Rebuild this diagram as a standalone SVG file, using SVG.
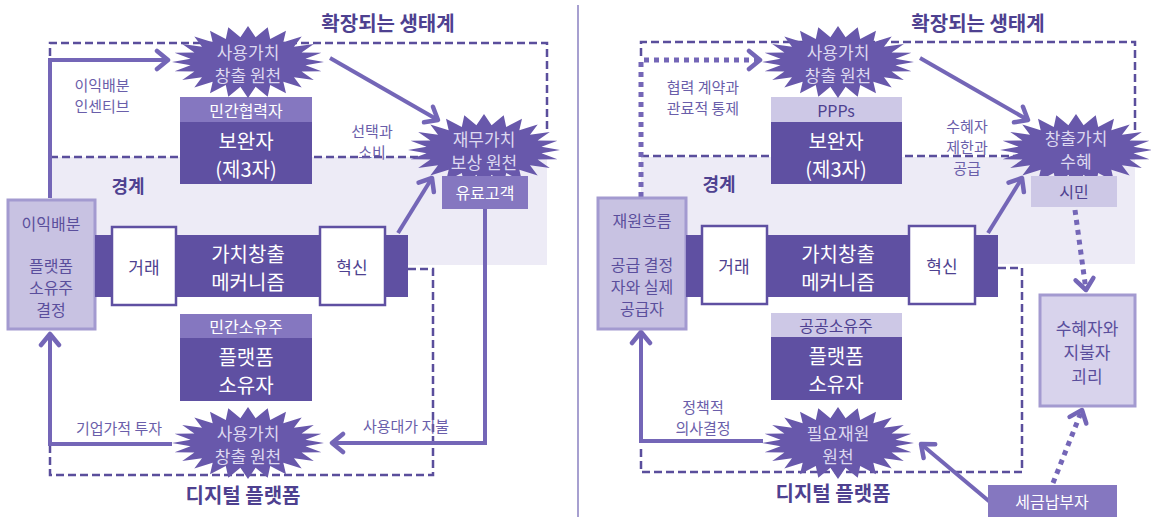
<svg xmlns="http://www.w3.org/2000/svg" width="1151" height="517" viewBox="0 0 1151 517">
<style>
text{font-family:'Noto Sans CJK KR','Noto Sans',sans-serif;text-anchor:middle;dominant-baseline:central}
.title{font-size:20px;font-weight:bold;fill:#4e4190}
.lbl{font-size:15px;fill:#6a5eaa}
.star{fill:#6858ab}
.startxt{font-size:17px;fill:#ddd8f0}
.dark{fill:#5f50a2}
.med{fill:#8577c0}
.light{fill:#cdc8e6}
.wtxt{fill:#fff}
.big{font-size:20px}
.mid{font-size:16px}
.dtxt{fill:#4e4190}
.side{fill:#c8c2e2;stroke:#a39ad0;stroke-width:3}
.sidetxt{font-size:16px;fill:#5a4e9c}
.dash{fill:none;stroke:#5a4e9c;stroke-width:2.5;stroke-dasharray:8 4}
.flow{fill:none;stroke:#7466b7;stroke-width:4}
.dot{fill:none;stroke:#7466b7;stroke-width:5;stroke-dasharray:5 5}
.band{fill:#edebf6}
.wbox{fill:#fff;stroke:#5f50a2;stroke-width:2.5}
.wtext{font-size:17px;fill:#4e4190}
</style>
<defs>
<polygon id="burst" points="76,0 57.5,3.3 73.4,9.3 53.6,9.6 65.8,18 46,15.2 53.7,25.5 35.3,19.8 38,31.2 22.2,23.1 19.7,34.8 7.6,24.8 0,36 -7.6,24.8 -19.7,34.8 -22.2,23.1 -38,31.2 -35.3,19.8 -53.7,25.5 -46,15.2 -65.8,18 -53.6,9.6 -73.4,9.3 -57.5,3.3 -76,0 -57.5,-3.3 -73.4,-9.3 -53.6,-9.6 -65.8,-18 -46,-15.2 -53.7,-25.5 -35.3,-19.8 -38,-31.2 -22.2,-23.1 -19.7,-34.8 -7.6,-24.8 0,-36 7.6,-24.8 19.7,-34.8 22.2,-23.1 38,-31.2 35.3,-19.8 53.7,-25.5 46,-15.2 65.8,-18 53.6,-9.6 73.4,-9.3 57.5,-3.3"/>
<marker id="ah" markerUnits="userSpaceOnUse" markerWidth="24" markerHeight="24" refX="16" refY="12" orient="auto"><path d="M5,3 L16,12 L5,21" fill="none" stroke="#7466b7" stroke-width="4.5" stroke-linecap="round" stroke-linejoin="round"/></marker>
</defs>

<rect width="1151" height="517" fill="#fff"/>
<line x1="578" y1="5" x2="578" y2="517" stroke="#8a80c0" stroke-width="1.5"/>

<!-- bands -->
<rect class="band" x="50" y="157" width="497" height="108"/>
<rect class="band" x="641" y="157" width="494" height="107"/>

<g id="connectors">
  <!-- left panel -->
  <path class="dash" d="M50,56 V43 H547 V132"/>
  <line class="dash" x1="50" y1="157" x2="547" y2="157"/>
  <path class="dash" d="M408,269 H433 V475 H50 V446"/>
  <path class="flow" d="M50,198 V60 H168" marker-end="url(#ah)"/>
  <line class="flow" x1="330" y1="58" x2="438" y2="120" marker-end="url(#ah)"/>
  <line class="flow" x1="398" y1="233" x2="432" y2="178" marker-end="url(#ah)"/>
  <path class="flow" d="M485,209 V443 H332" marker-end="url(#ah)"/>
  <path class="flow" d="M172,444 H50 V334" marker-end="url(#ah)"/>
  <!-- right panel -->
  <path class="dash" d="M641,56 V42 H1135 V132"/>
  <line class="dash" x1="641" y1="156" x2="1135" y2="156"/>
  <path class="dash" d="M998,268 H1022 V472 H641 V446"/>
  <path class="dot" d="M641,197 V60 H760" marker-end="url(#ah)"/>
  <line class="flow" x1="920" y1="58" x2="1028" y2="120" marker-end="url(#ah)"/>
  <line class="flow" x1="988" y1="233" x2="1022" y2="178" marker-end="url(#ah)"/>
  <path class="flow" d="M763,441 H641 V332" marker-end="url(#ah)"/>
  <line class="flow" x1="990" y1="502" x2="921" y2="444" marker-end="url(#ah)"/>
  <line class="dot" x1="1075" y1="210" x2="1086" y2="290" marker-end="url(#ah)"/>
  <line class="dot" x1="1053" y1="483" x2="1082" y2="410" marker-end="url(#ah)"/>
</g>

<!-- LEFT PANEL -->
<text class="title" x="388" y="22">확장되는 생태계</text>
<text class="title" x="243" y="494">디지털 플랫폼</text>
<text class="title" x="128" y="185" style="font-size:18px">경계</text>
<g id="lbl-left">
  <text class="lbl" x="102" y="84">이익배분<tspan x="102" dy="21">인센티브</tspan></text>
  <text class="lbl" x="372" y="130">선택과<tspan x="372" dy="21">소비</tspan></text>
  <text class="lbl" x="119" y="427">기업가적 투자</text>
  <text class="lbl" x="406" y="425">사용대가 지불</text>
</g>

<g id="L-side">
  <rect class="side" x="8" y="200" width="87" height="129"/>
  <text class="sidetxt" x="51" y="223">이익배분</text>
  <text class="sidetxt" x="51" y="265">플랫폼<tspan x="51" dy="22">소유주</tspan><tspan x="51" dy="22">결정</tspan></text>
</g>

<g id="L-mech">
  <rect class="dark" x="95" y="235" width="313" height="62"/>
  <text class="wtxt big" x="248" y="253">가치창출<tspan x="248" dy="28">메커니즘</tspan></text>
</g>
<g id="L-trade">
  <rect class="wbox" x="112" y="227" width="64" height="78"/>
  <text class="wtext" x="144" y="266">거래</text>
</g>
<g id="L-innov">
  <rect class="wbox" x="320" y="227" width="65" height="78"/>
  <text class="wtext" x="352" y="266">혁신</text>
</g>

<g id="L-comp">
  <rect class="med" x="180" y="97" width="132" height="25"/>
  <text class="wtxt mid" x="246" y="110">민간협력자</text>
  <rect class="dark" x="180" y="122" width="132" height="62"/>
  <text class="wtxt big" x="246" y="140">보완자<tspan x="246" dy="28">(제3자)</tspan></text>
</g>
<g id="L-owner">
  <rect class="med" x="180" y="314" width="132" height="24"/>
  <text class="wtxt mid" x="246" y="326">민간소유주</text>
  <rect class="dark" x="180" y="338" width="132" height="63"/>
  <text class="wtxt big" x="246" y="356">플랫폼<tspan x="246" dy="28">소유자</tspan></text>
</g>

<g id="L-star-top">
  <use href="#burst" class="star" transform="translate(248,62)"/>
  <text class="startxt" x="248" y="51">사용가치<tspan x="248" dy="23">창출 원천</tspan></text>
</g>
<g id="L-star-fin">
  <use href="#burst" class="star" transform="translate(484,150)"/>
  <text class="startxt" x="484" y="138">재무가치<tspan x="484" dy="23">보상 원천</tspan></text>
</g>
<g id="L-cust">
  <rect class="med" x="442" y="176" width="86" height="33"/>
  <text class="wtxt mid" x="485" y="192">유료고객</text>
</g>
<g id="L-star-bot">
  <use href="#burst" class="star" transform="translate(248,443)"/>
  <text class="startxt" x="248" y="432">사용가치<tspan x="248" dy="23">창출 원천</tspan></text>
</g>

<!-- RIGHT PANEL -->
<text class="title" x="978" y="22">확장되는 생태계</text>
<text class="title" x="833" y="492">디지털 플랫폼</text>
<text class="title" x="719" y="183" style="font-size:18px">경계</text>
<g id="lbl-right">
  <text class="lbl" x="703" y="86">협력 계약과<tspan x="703" dy="21">관료적 통제</tspan></text>
  <text class="lbl" x="967" y="125">수혜자<tspan x="967" dy="21">제한과</tspan><tspan x="967" dy="21">공급</tspan></text>
  <text class="lbl" x="703" y="406">정책적<tspan x="703" dy="21">의사결정</tspan></text>
</g>

<g id="R-side">
  <rect class="side" x="598" y="198" width="88" height="131"/>
  <text class="sidetxt" x="642" y="220">재원흐름</text>
  <text class="sidetxt" x="642" y="264">공급 결정<tspan x="642" dy="22">자와 실제</tspan><tspan x="642" dy="22">공급자</tspan></text>
</g>

<g id="R-mech">
  <rect class="dark" x="686" y="235" width="312" height="62"/>
  <text class="wtxt big" x="838" y="253">가치창출<tspan x="838" dy="28">메커니즘</tspan></text>
</g>
<g id="R-trade">
  <rect class="wbox" x="702" y="226" width="65" height="78"/>
  <text class="wtext" x="734" y="265">거래</text>
</g>
<g id="R-innov">
  <rect class="wbox" x="909" y="226" width="66" height="78"/>
  <text class="wtext" x="942" y="265">혁신</text>
</g>

<g id="R-comp">
  <rect class="light" x="771" y="97" width="131" height="25"/>
  <text class="dtxt mid" x="836" y="110">PPPs</text>
  <rect class="dark" x="771" y="122" width="131" height="62"/>
  <text class="wtxt big" x="836" y="140">보완자<tspan x="836" dy="28">(제3자)</tspan></text>
</g>
<g id="R-owner">
  <rect class="light" x="771" y="313" width="131" height="24"/>
  <text class="dtxt mid" x="836" y="325">공공소유주</text>
  <rect class="dark" x="771" y="337" width="131" height="63"/>
  <text class="wtxt big" x="836" y="355">플랫폼<tspan x="836" dy="28">소유자</tspan></text>
</g>

<g id="R-star-top">
  <use href="#burst" class="star" transform="translate(838,62)"/>
  <text class="startxt" x="838" y="51">사용가치<tspan x="838" dy="23">창출 원천</tspan></text>
</g>
<g id="R-star-ben">
  <use href="#burst" class="star" transform="translate(1076,150)"/>
  <text class="startxt" x="1076" y="137">창출가치<tspan x="1076" dy="23">수혜</tspan></text>
</g>
<g id="R-citizen">
  <rect class="light" x="1031" y="176" width="86" height="31"/>
  <text class="dtxt mid" x="1074" y="191">시민</text>
</g>
<g id="R-gap">
  <rect class="side" x="1040" y="295" width="95" height="111" style="fill:#d8d3ec"/>
  <text class="sidetxt" x="1087" y="327" style="font-size:17px">수혜자와<tspan x="1087" dy="24">지불자</tspan><tspan x="1087" dy="23.5">괴리</tspan></text>
</g>
<g id="R-star-bot">
  <use href="#burst" class="star" transform="translate(838,443)"/>
  <text class="startxt" x="838" y="432">필요재원<tspan x="838" dy="23">원천</tspan></text>
</g>
<g id="R-tax">
  <rect class="med" x="988" y="485" width="129" height="32"/>
  <text class="wtxt mid" x="1052" y="501">세금납부자</text>
</g>
</svg>
